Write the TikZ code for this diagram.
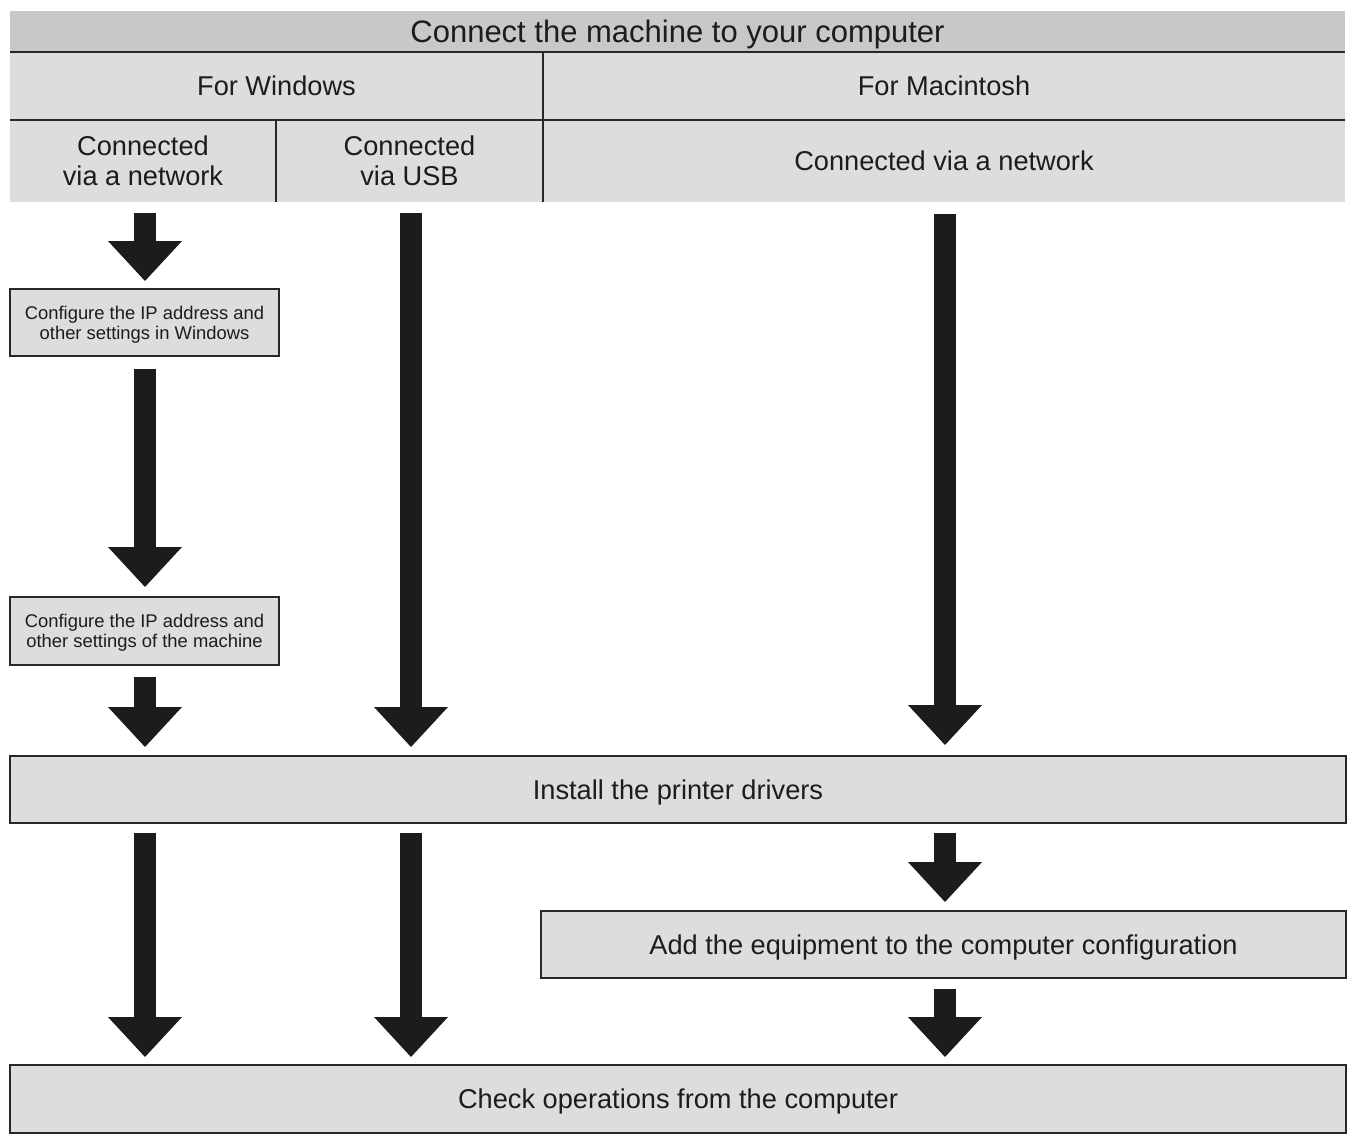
\documentclass[tikz,border=0pt]{standalone}
\usepackage{fontspec}
\setmainfont{Liberation Sans}
\usetikzlibrary{arrows.meta,calc}
\definecolor{hdr}{RGB}{200,200,200}
\definecolor{cell}{RGB}{221,221,221}
\definecolor{edge}{RGB}{40,40,40}
\definecolor{ink}{RGB}{28,28,28}
\begin{document}
\begin{tikzpicture}[x=0.5pt,y=-0.5pt,
  cellbox/.style={fill=cell, inner sep=0pt, outer sep=0pt, text=ink, align=center,
    text depth=0pt, font=\fontsize{13.6}{15}\selectfont},
  stepbox/.style={cellbox, draw=edge, line width=1.2pt},
  smallbox/.style={stepbox, font=\fontsize{9.2}{10}\selectfont},
  blk/.style={draw=ink, line width=10.75pt,
    -{Triangle[width=37pt,length=20pt,line width=0pt]}},
  gridline/.style={draw=edge, line width=1.3pt}]
\useasboundingbox (0,0) rectangle (1356,1140);
\fill[white] (0,0) rectangle (1356,1140);

% header table
\node[cellbox, fill=hdr, minimum width=667.5pt, minimum height=20.5pt,
  font=\fontsize{15.5}{17}\selectfont] (title) at (677.5,31.5) {Connect the machine to your computer};
\node[cellbox, minimum width=266.5pt, minimum height=34pt] (win) at (276.5,86) {For Windows};
\node[cellbox, minimum width=401pt, minimum height=34pt] (mac) at (944,86) {For Macintosh};
\node[cellbox, minimum width=133pt, minimum height=41pt] (wnet) at (143,161) {Connected\\via a network};
\node[cellbox, minimum width=133.5pt, minimum height=41pt] (wusb) at (409.5,161) {Connected\\via USB};
\node[cellbox, minimum width=401pt, minimum height=41pt] (mnet) at (944,161) {Connected via a network};

\draw[gridline] (title.south west) -- (title.south east);
\draw[gridline] (win.south west) -- (mac.south east);
\draw[gridline] (win.north east) -- (mnet.south west);
\draw[gridline] (wnet.north east) -- (wnet.south east);

% step boxes
\node[smallbox, minimum width=134.5pt, minimum height=33.5pt] (boxA) at (144.5,322.5)
  {Configure the IP address and\\other settings in Windows};
\node[smallbox, minimum width=134.5pt, minimum height=34pt] (boxB) at (144.5,631)
  {Configure the IP address and\\other settings of the machine};
\node[stepbox, minimum width=668pt, minimum height=33.5pt] (inst) at (678,789.5)
  {Install the printer drivers};
\node[stepbox, minimum width=402.5pt, minimum height=33.5pt] (add) at (943.5,944.5)
  {Add the equipment to the computer configuration};
\node[stepbox, minimum width=668pt, minimum height=34pt] (check) at (678,1099)
  {Check operations from the computer};

% arrow columns
\coordinate (c1) at (145,0);
\coordinate (c2) at (411,0);
\coordinate (c3) at (945,0);

\draw[blk] ($(wnet.south -| c1)+(0,11)$) -- ($(boxA.north -| c1)+(0,-8)$);
\draw[blk] ($(boxA.south -| c1)+(0,13)$) -- ($(boxB.north -| c1)+(0,-10)$);
\draw[blk] ($(boxB.south -| c1)+(0,12)$) -- ($(inst.north -| c1)+(0,-9)$);
\draw[blk] ($(wusb.south -| c2)+(0,11)$) -- ($(inst.north -| c2)+(0,-9)$);
\draw[blk] ($(mnet.south -| c3)+(0,12)$) -- ($(inst.north -| c3)+(0,-11)$);
\draw[blk] ($(inst.south -| c1)+(0,10)$) -- ($(check.north -| c1)+(0,-8)$);
\draw[blk] ($(inst.south -| c2)+(0,10)$) -- ($(check.north -| c2)+(0,-8)$);
\draw[blk] ($(inst.south -| c3)+(0,10)$) -- ($(add.north -| c3)+(0,-9)$);
\draw[blk] ($(add.south -| c3)+(0,11)$) -- ($(check.north -| c3)+(0,-8)$);
\end{tikzpicture}
\end{document}
